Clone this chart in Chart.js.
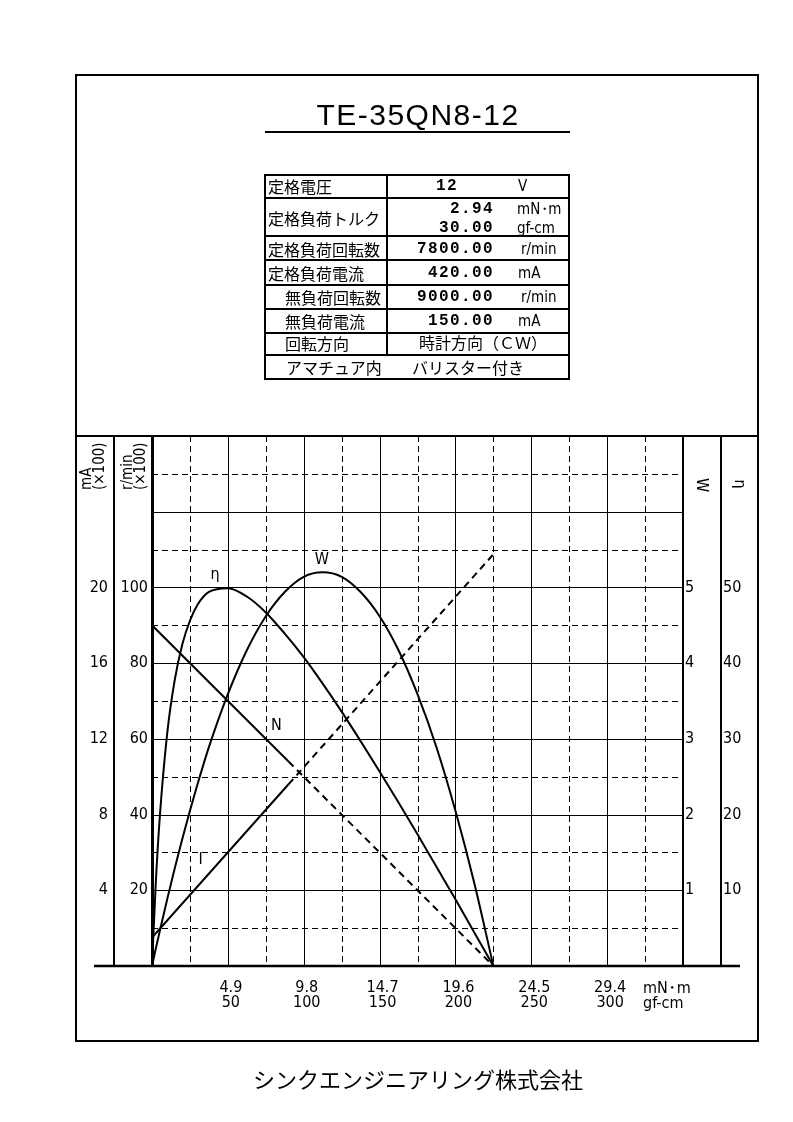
<!DOCTYPE html>
<html lang="ja">
<head>
<meta charset="utf-8">
<title>TE-35QN8-12</title>
<script src="https://cdn.jsdelivr.net/npm/chart.js@4.4.1/dist/chart.umd.min.js"></script>
<style>
  body { margin: 0; background: #fff; }
  #page { position: relative; width: 793px; height: 1122px; overflow: hidden; color: #000;
          font-family: 'Noto Sans CJK JP', sans-serif; }
  #page canvas { position: absolute; left: 0; top: 0; }
  .ln { position: absolute; background: #000; }
  .t { position: absolute; white-space: nowrap; line-height: 1; transform: translateY(-50%); }
  .r { transform: translate(-100%, -50%); }
  .c { transform: translate(-50%, -50%); }
  .jp { font-size: 16px; }
  .num { font-family: 'Liberation Mono', monospace; font-weight: bold; font-size: 16px; letter-spacing: 1.4px; }
  .unit { font-family: 'Liberation Sans Narrow', 'DejaVu Sans Condensed', sans-serif; font-size: 15px; }
  .dot { margin: 0 -3.5px; }
  .rot { position: absolute; font-family: 'Liberation Sans Narrow', 'DejaVu Sans Condensed', sans-serif;
         font-size: 15px; line-height: 13px; white-space: nowrap; }
</style>
</head>
<body>
<div id="page">
  <canvas id="chart" width="793" height="1122"></canvas>

  <!-- frame -->
  <div class="ln" style="left:75px; top:74px; width:684px; height:2px;"></div>
  <div class="ln" style="left:75px; top:1040px; width:684px; height:2px;"></div>
  <div class="ln" style="left:75px; top:74px; width:2px; height:968px;"></div>
  <div class="ln" style="left:757px; top:74px; width:2px; height:968px;"></div>
  <div class="ln" style="left:75px; top:435px; width:684px; height:2px;"></div>

  <!-- title -->
  <div class="t c" style="left:418px; top:115px; font-family:'Liberation Sans', sans-serif; font-size:30px; letter-spacing:1.5px;">TE-35QN8-12</div>
  <div class="ln" style="left:265px; top:131px; width:305px; height:2px;"></div>

  <!-- spec table -->
  <div style="position:absolute; left:264px; top:174px; width:306px; height:206px; border:2px solid #000; box-sizing:border-box;"></div>
  <div class="ln" style="left:264px; top:197px; width:306px; height:2px;"></div>
  <div class="ln" style="left:264px; top:235px; width:306px; height:2px;"></div>
  <div class="ln" style="left:264px; top:259px; width:306px; height:2px;"></div>
  <div class="ln" style="left:264px; top:284px; width:306px; height:2px;"></div>
  <div class="ln" style="left:264px; top:308px; width:306px; height:2px;"></div>
  <div class="ln" style="left:264px; top:332px; width:306px; height:2px;"></div>
  <div class="ln" style="left:264px; top:354px; width:306px; height:2px;"></div>
  <div class="ln" style="left:386px; top:174px; width:2px; height:181px;"></div>

  <div class="t jp" style="left:268px; top:186px;">定格電圧</div>
  <div class="t jp" style="left:268px; top:218px;">定格負荷トルク</div>
  <div class="t jp" style="left:268px; top:249px;">定格負荷回転数</div>
  <div class="t jp" style="left:268px; top:273px;">定格負荷電流</div>
  <div class="t jp" style="left:285px; top:297px;">無負荷回転数</div>
  <div class="t jp" style="left:285px; top:321px;">無負荷電流</div>
  <div class="t jp" style="left:285px; top:343px;">回転方向</div>
  <div class="t jp" style="left:286px; top:367px;">アマチュア内</div>

  <div class="t num" style="left:436px; top:186px;">12</div>
  <div class="t num r" style="left:494px; top:209px;">2.94</div>
  <div class="t num r" style="left:494px; top:228px;">30.00</div>
  <div class="t num r" style="left:494px; top:249px;">7800.00</div>
  <div class="t num r" style="left:494px; top:273px;">420.00</div>
  <div class="t num r" style="left:494px; top:297px;">9000.00</div>
  <div class="t num r" style="left:494px; top:321px;">150.00</div>

  <div class="t unit" style="left:518px; top:186px;">V</div>
  <div class="t unit" style="left:517px; top:209px;">mN<span class="dot">・</span>m</div>
  <div class="t unit" style="left:517px; top:228px;">gf-cm</div>
  <div class="t unit" style="left:521px; top:249px;">r/min</div>
  <div class="t unit" style="left:518px; top:273px;">mA</div>
  <div class="t unit" style="left:521px; top:297px;">r/min</div>
  <div class="t unit" style="left:518px; top:321px;">mA</div>

  <div class="t jp" style="left:419px; top:342px;">時計方向（ＣＷ）</div>
  <div class="t jp" style="left:412px; top:367px;">バリスター付き</div>

  <!-- axis titles -->
  <div class="rot" style="left:71px; top:455px; width:44px; height:26px; transform:rotate(-90deg);">mA<br>(×100)</div>
  <div class="rot" style="left:112px; top:455px; width:44px; height:26px; transform:rotate(-90deg);">r/min<br>(×100)</div>
  <div class="t c unit" style="left:702px; top:485px; font-size:16px; transform:translate(-50%,-50%) rotate(90deg);">W</div>
  <div class="t c unit" style="left:740px; top:484px; font-size:16px; transform:translate(-50%,-50%) rotate(90deg);">η</div>

  <div class="t unit" style="left:643px; top:988px; font-size:16px;">mN<span class="dot">・</span>m</div>
  <div class="t unit" style="left:643px; top:1003px; font-size:16px;">gf-cm</div>

  <div class="t c" style="left:418px; top:1078px; font-size:22px;">シンクエンジニアリング株式会社</div>
</div>

<script>
// torque in gf-cm
const torqueGf = [0, 2.5, 5, 10, 15, 20, 25, 30, 37.5, 50, 62.5, 75, 87.5, 100, 112.5, 125, 137.5, 150, 162.5, 175, 187.5, 200, 212.5, 225];
const efficiency = [0, 11.0, 19.3, 30.7, 37.8, 42.5, 45.6, 47.7, 49.4, 49.9, 48.8, 46.7, 43.9, 40.8, 37.3, 33.6, 29.7, 25.7, 21.6, 17.4, 13.1, 8.8, 4.4, 0];
const outputW = [0, 0.23, 0.45, 0.88, 1.29, 1.68, 2.05, 2.40, 2.89, 3.59, 4.17, 4.62, 4.94, 5.14, 5.20, 5.14, 4.94, 4.62, 4.17, 3.59, 2.89, 2.05, 1.09, 0];

// straight lines: first segment solid, second dashed
const lineTorque = [0, 90, 225];
const speedX100 = [90, 54, 0];
const currentX100 = [1.5, 9.6, 21.75];

const xTickMn = ['4.9', '9.8', '14.7', '19.6', '24.5', '29.4'];
const xTickGf = [50, 100, 150, 200, 250, 300];
const maTicks = [4, 8, 12, 16, 20];
const rpmTicks = [20, 40, 60, 80, 100];
const wTicks = [1, 2, 3, 4, 5];
const etaTicks = [10, 20, 30, 40, 50];

const NARROW = "'Liberation Sans Narrow', 'DejaVu Sans Condensed', 'Liberation Sans', sans-serif";

const pts = (xs, ys) => xs.map((x, i) => ({ x: x, y: ys[i] }));
const pick = (list) => (v) => list.some(t => Math.abs(t - v) < 1e-6) ? String(v) : null;

const curveLabels = [
    { text: 'η', axis: 'eta', x: 41.5, y: 51.6 },
    { text: 'W', axis: 'W', x: 112, y: 5.37 },
    { text: 'N', axis: 'rpm', x: 82, y: 63.5 },
    { text: 'I', axis: 'mA', x: 32, y: 5.6 }
];

const sheetGrid = {
    id: 'sheetGrid',
    beforeDatasetsDraw(chart) {
        const { ctx, chartArea: a, scales } = chart;
        ctx.save();
        ctx.strokeStyle = '#000';
        ctx.lineWidth = 1;
        for (let i = 1; i < 14; i++) {
            const x = Math.round(scales.x.getPixelForValue(i * 25)) + 0.5;
            ctx.setLineDash(i % 2 ? [6, 4] : []);
            ctx.beginPath(); ctx.moveTo(x, a.top); ctx.lineTo(x, a.bottom); ctx.stroke();
        }
        for (let i = 1; i < 14; i++) {
            const y = Math.round(scales.rpm.getPixelForValue(i * 10)) + 0.5;
            ctx.setLineDash(i % 2 ? [6, 4] : []);
            ctx.beginPath(); ctx.moveTo(a.left, y); ctx.lineTo(a.right, y); ctx.stroke();
        }
        ctx.restore();
    },
    afterDatasetsDraw(chart) {
        const { ctx, chartArea: a, scales } = chart;
        ctx.save();
        // base line runs across the axis columns
        ctx.strokeStyle = '#000';
        ctx.lineWidth = 2.5;
        ctx.beginPath(); ctx.moveTo(94, a.bottom); ctx.lineTo(740, a.bottom); ctx.stroke();

        ctx.fillStyle = '#000';
        ctx.font = '16px ' + NARROW;
        ctx.textAlign = 'center';
        ctx.textBaseline = 'middle';
        curveLabels.forEach(l => {
            ctx.fillText(l.text, scales.x.getPixelForValue(l.x), scales[l.axis].getPixelForValue(l.y));
        });
        ctx.restore();
    }
};

const tickFont = { family: NARROW, size: 16 };
const hiddenGrid = { color: 'rgba(0,0,0,0)', drawTicks: false };
const edge = { display: true, color: '#000', width: 2 };

new Chart(document.getElementById('chart'), {
    type: 'line',
    data: {
        datasets: [
            {
                label: 'η',
                data: pts(torqueGf, efficiency),
                yAxisID: 'eta',
                borderColor: '#000', borderWidth: 2, pointRadius: 0,
                cubicInterpolationMode: 'monotone'
            },
            {
                label: 'W',
                data: pts(torqueGf, outputW),
                yAxisID: 'W',
                borderColor: '#000', borderWidth: 2, pointRadius: 0,
                cubicInterpolationMode: 'monotone'
            },
            {
                label: 'N',
                data: pts(lineTorque, speedX100),
                yAxisID: 'rpm',
                borderColor: '#000', borderWidth: 2, pointRadius: 0,
                segment: { borderDash: ctx => ctx.p0DataIndex >= 1 ? [7, 5] : undefined }
            },
            {
                label: 'I',
                data: pts(lineTorque, currentX100),
                yAxisID: 'mA',
                borderColor: '#000', borderWidth: 2, pointRadius: 0,
                segment: { borderDash: ctx => ctx.p0DataIndex >= 1 ? [7, 5] : undefined }
            }
        ]
    },
    options: {
        responsive: false,
        animation: false,
        devicePixelRatio: 1,
        layout: { padding: { left: 76, right: 35, top: 436, bottom: 81 }, autoPadding: false },
        plugins: { legend: { display: false }, tooltip: { enabled: false } },
        scales: {
            x: {
                type: 'linear', position: 'bottom', min: 0, max: 350,
                ticks: {
                    stepSize: 25, autoSkip: false, maxRotation: 0, padding: 14, labelOffset: 3,
                    color: '#000', font: { family: NARROW, size: 16, lineHeight: 0.95 },
                    callback: (v) => {
                        const i = xTickGf.indexOf(v);
                        return i < 0 ? null : [xTickMn[i], String(v)];
                    }
                },
                grid: hiddenGrid,
                border: { display: false },
                afterFit: (s) => { s.height = 75; }
            },
            mA: {
                type: 'linear', position: 'left', weight: 2, min: 0, max: 28,
                ticks: { stepSize: 2, autoSkip: false, padding: 6, color: '#000', font: tickFont, callback: pick(maTicks) },
                grid: hiddenGrid, border: edge,
                afterFit: (s) => { s.width = 38; }
            },
            rpm: {
                type: 'linear', position: 'left', weight: 1, min: 0, max: 140,
                ticks: { stepSize: 10, autoSkip: false, padding: 4, color: '#000', font: tickFont, callback: pick(rpmTicks) },
                grid: hiddenGrid, border: { display: true, color: '#000', width: 3 },
                afterFit: (s) => { s.width = 38; }
            },
            W: {
                type: 'linear', position: 'right', weight: 1, min: 0, max: 7,
                ticks: { stepSize: 0.5, autoSkip: false, padding: 2, color: '#000', font: tickFont, callback: pick(wTicks) },
                grid: hiddenGrid, border: edge,
                afterFit: (s) => { s.width = 38; }
            },
            eta: {
                type: 'linear', position: 'right', weight: 2, min: 0, max: 70,
                ticks: { stepSize: 5, autoSkip: false, padding: 2, color: '#000', font: tickFont, callback: pick(etaTicks) },
                grid: hiddenGrid, border: edge,
                afterFit: (s) => { s.width = 37; }
            }
        }
    },
    plugins: [sheetGrid]
});
</script>
</body>
</html>
